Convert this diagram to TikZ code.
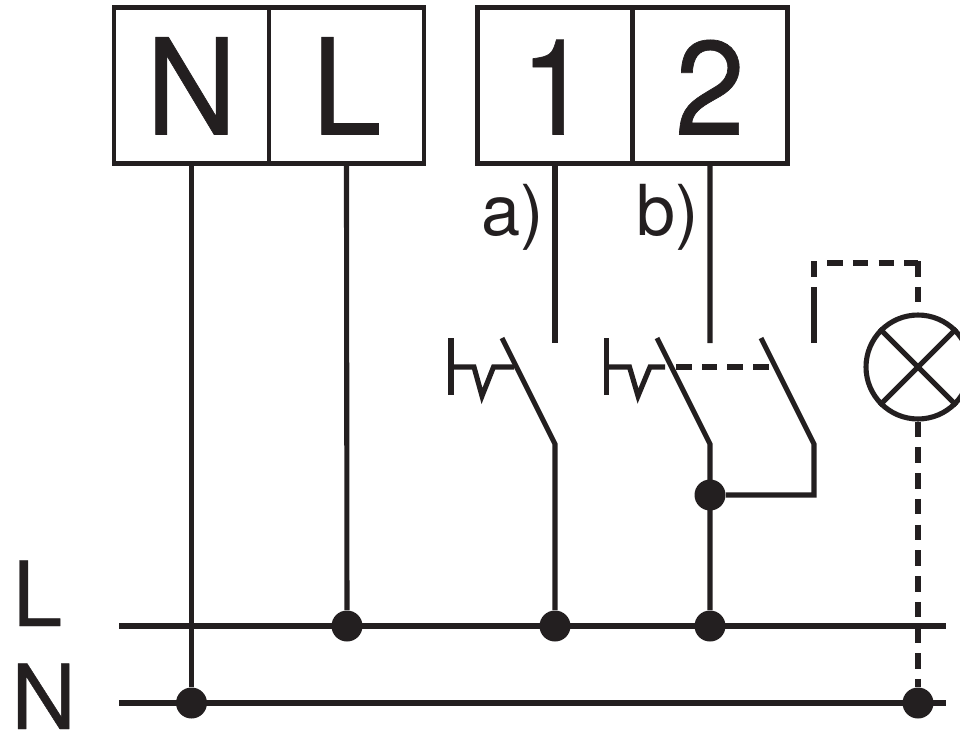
\documentclass[tikz,border=0pt]{standalone}
\usepackage{fontspec}
\setmainfont{TeX Gyre Heros}
\newfontfamily\heavyfont[FakeBold=0.5]{TeX Gyre Heros}
\newfontfamily\termfont[FakeBold=0.5,FakeStretch=0.94]{TeX Gyre Heros}
\usetikzlibrary{positioning}
\definecolor{ink}{HTML}{231F20}
\tikzset{
    terminal/.style={
        rectangle,
        draw=ink,
        line width=2.5pt,
        minimum width=3.10cm,
        minimum height=3.12cm,
        inner sep=0pt,
        outer sep=0pt,
        text=ink,
        text depth=0pt,
        text height=1.96cm,
        font=\termfont\fontsize{76}{76}\selectfont
    },
    wire/.style={
        draw=ink,
        line width=2.9pt
    },
    dashwire/.style={
        draw=ink,
        line width=2.9pt,
        dash pattern=on 0.31cm off 0.205cm
    },
    dot/.style={
        circle,
        fill=ink,
        inner sep=0pt,
        minimum size=0.62cm
    },
    lamp/.style={
        circle,
        draw=ink,
        line width=2.9pt,
        inner sep=0pt,
        minimum size=2.08cm
    },
    busname/.style={
        anchor=base west,
        inner sep=0pt,
        text=ink,
        font=\heavyfont\fontsize{51}{51}\selectfont
    },
    contactname/.style={
        anchor=base east,
        inner sep=0pt,
        text=ink,
        font=\fontsize{40}{40}\selectfont
    }
}
\begin{document}
\begin{tikzpicture}[x=0.02cm, y=-0.02cm, node distance=0cm]
\useasboundingbox (0,0) rectangle (960,734);

% Terminals
\node[terminal] (termN) at (191.5,85.5) {N};
\node[terminal, right=of termN] (termL) {L};
\node[terminal] (term1) at (555,85.5) {1};
\node[terminal, right=of term1] (term2) {2};

% Bus bars
\coordinate (busLa) at (119,626);
\coordinate (busLb) at (946,626);
\coordinate (busNa) at (119,703);
\coordinate (busNb) at (946,703);
\draw[wire] (busLa) -- (busLb);
\draw[wire] (busNa) -- (busNb);
\node[busname] (nameL) at (12,626) {L};
\node[busname] (nameN) at (11,729) {N};

% Junctions
\node[dot] (dotN) at (191.5,703) {};
\node[dot] (dotL) at (347,626) {};
\node[dot] (dotA) at (555,626) {};
\node[dot] (dotB) at (710,626) {};
\node[dot] (dotC) at (710,495) {};
\node[dot] (dotLamp) at (918,703) {};

\draw[wire] (termN.south) -- (dotN);
\draw[wire] (termL.south) -- (dotL);

% Contacts
\coordinate (contA) at (555,343);
\coordinate (contB) at (710,343);
\coordinate (contC) at (814,343);
\draw[wire] (term1.south) -- (contA);
\draw[wire] (term2.south) -- (contB);
\node[contactname] (nameA) at (544,235) {a)};
\node[contactname] (nameB) at (699,235) {b)};

% Switch a
\coordinate (bladeA) at (502,338);
\coordinate (bendA) at (555,444);
\draw[wire] (dotA) -- (bendA) -- (bladeA);
\coordinate (pushA) at (514,367);
\draw[wire] (451,338) -- (451,395);
\draw[wire] (451,367) -- (474,367) -- (482,396) -- (493.5,367) -- (pushA);

% Switch b
\coordinate (bladeB) at (657,338);
\coordinate (bendB) at (710,444);
\coordinate (bladeC) at (761,338);
\coordinate (bendC) at (814,444);
\coordinate (tieC) at (814,495);
\draw[wire] (dotB) -- (bendB) -- (bladeB);
\draw[wire] (dotC) -- (tieC) -- (bendC) -- (bladeC);
\draw[wire] (606.5,338) -- (606.5,395);
\draw[wire] (606.5,367) -- (629.5,367) -- (638,396) -- (650,367) -- (665,367);
\coordinate (tieA) at (676,367);
\coordinate (tieB) at (770,367);
\draw[dashwire] (tieA) -- (tieB);

% Lamp
\node[lamp] (bulb) at (918,367) {};
\draw[wire] (bulb.45) -- (bulb.225);
\draw[wire] (bulb.135) -- (bulb.315);
\coordinate (lampTop) at (918,263);
\draw[wire] (contC) -- (814,287);
\draw[dashwire] (814,261) -- (814,277);
\draw[dashwire] (827,263) -- (lampTop);
\draw[dashwire] (918,261) -- (bulb.north);
\draw[dashwire] (bulb.south) -- (dotLamp);

\end{tikzpicture}
\end{document}
